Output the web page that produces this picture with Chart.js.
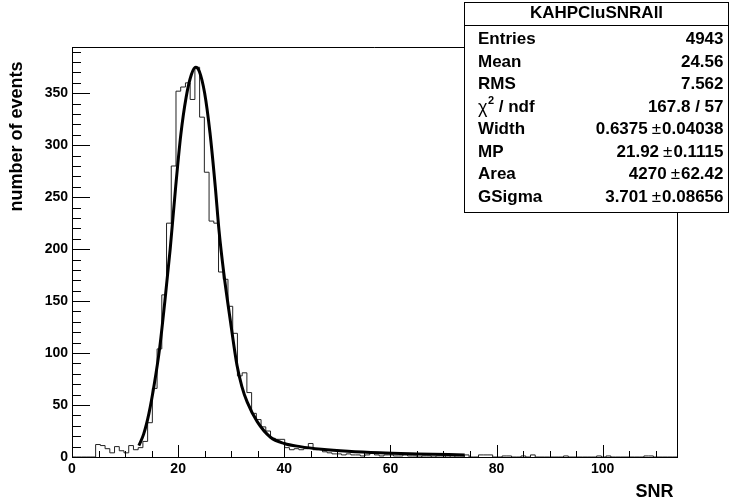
<!DOCTYPE html>
<html>
<head>
<meta charset="utf-8">
<script src="https://cdn.jsdelivr.net/npm/chart.js@4.4.1/dist/chart.umd.min.js"></script>
<style>
  html, body { margin: 0; padding: 0; background: #fff; }
  canvas { display: block; }
</style>
</head>
<body>
<canvas id="c" width="734" height="500"></canvas>
<script>
// Histogram definition: 128 equal bins on [xMin, xMax]
const histName = 'KAHPCluSNRAll';
const xMin = 0;
const xMax = 114;
const nBins = 128;

// Bin contents (events per bin), bin 0 first
const binCounts = [
  0, 0, 0, 0, 0,
  12, 11, 8, 4, 10, 6, 4, 11, 7, 9, 15,
  33, 66, 104, 156, 225, 280, 352, 356, 360, 344, 375, 327, 274, 227, 225,
  178, 171, 145, 119, 78, 81, 62, 42, 36, 29, 25, 18, 17, 17, 9,
  7, 8, 7, 8, 13, 7, 8, 5, 4, 3,
  3, 2, 3, 2, 2, 1, 2, 4, 2, 1, 2, 2, 1, 1, 2, 1, 1, 0, 1, 1, 0, 1, 1, 0, 1, 0,
  0, 2, 0, 0, 2, 2, 2, 0, 0, 1, 1, 0, 0, 1, 0, 2, 0, 0, 0, 0, 0, 0, 1, 0, 0, 0,
  0, 0, 0, 1, 0, 1, 0, 0, 0, 0, 0, 0, 0, 1, 1, 0, 0, 0, 0, 0
];

// Landau (x) Gauss fit curve, sampled over the fit range
const fitX = [12.6, 13.5, 14.5, 15.5, 16.5, 17.5, 18.5, 19.5, 20.5, 21.5, 22.5, 23.3,
              24.0, 25.0, 26.0, 27.0, 27.7, 28.6, 29.9, 31.1, 32.0, 33.0, 34.9, 37.4,
              40, 43, 47, 52, 58, 65, 74];
const fitY = [11, 22, 42, 70, 104, 150, 200, 258, 310, 346, 368, 375,
              371, 350, 312, 260, 218, 177, 129, 88, 68, 53, 34, 19,
              13, 10, 7.5, 5.5, 4, 3, 2];

// Axis ranges and tick spacing
const yMax = 394.5;
const xMajorStep = 20, xMinorStep = 5;
const yMajorStep = 50, yMinorStep = 10;

// Axis titles
const xTitle = 'SNR';
const yTitle = 'number of events';

// Statistics / fit parameter box
const statLabels = ['Entries', 'Mean', 'RMS', 'chi2', 'Width', 'MP', 'Area', 'GSigma'];
const statValues = ['4943', '24.56', '7.562', '167.8 / 57', '0.6375', '21.92', '4270', '3.701'];
const statErrors = ['', '', '', '', '0.04038', '0.1115', '62.42', '0.08656'];

const FONT = '"Liberation Sans", Arial, Helvetica, sans-serif';
const binW = (xMax - xMin) / nBins;

const histPoints = binCounts.map((c, i) => ({ x: xMin + i * binW, y: c }));
histPoints.push({ x: xMax, y: 0 });
const fitPoints = fitX.map((x, i) => ({ x: x, y: fitY[i] }));

function line(ctx, x1, y1, x2, y2) {
  ctx.beginPath();
  ctx.moveTo(x1, y1);
  ctx.lineTo(x2, y2);
  ctx.stroke();
}

const framePlugin = {
  id: 'frame',
  afterDatasetsDraw(chart) {
    const { ctx, chartArea: a, scales: { x, y } } = chart;
    ctx.save();
    ctx.strokeStyle = '#000';
    ctx.lineWidth = 1;
    // top and right sides of the frame
    line(ctx, a.left, a.top + 0.5, a.right + 0.5, a.top + 0.5);
    line(ctx, a.right + 0.5, a.top, a.right + 0.5, a.bottom + 0.5);
    // inward ticks on the y axis
    for (let v = 0; v <= y.max + 1e-6; v += yMinorStep) {
      const py = Math.round(y.getPixelForValue(v)) + 0.5;
      const len = (v % yMajorStep === 0) ? 18 : 9;
      line(ctx, a.left, py, a.left + len, py);
    }
    // inward ticks on the x axis
    for (let v = xMin; v <= x.max + 1e-6; v += xMinorStep) {
      const px = Math.round(x.getPixelForValue(v)) + 0.5;
      const len = (v % xMajorStep === 0) ? 12 : 6;
      line(ctx, px, a.bottom, px, a.bottom - len);
    }
    // axis titles
    ctx.fillStyle = '#000';
    ctx.font = 'bold 18px ' + FONT;
    ctx.textBaseline = 'middle';
    ctx.textAlign = 'right';
    ctx.fillText(xTitle, 673.5, 492.5);
    ctx.save();
    ctx.translate(17.5, 136.5);
    ctx.rotate(-Math.PI / 2);
    ctx.textAlign = 'center';
    ctx.fillText(yTitle, 0, 0);
    ctx.restore();
    ctx.restore();
  },
  afterDraw(chart) {
    const ctx = chart.ctx;
    const L = 464, T = 2, R = 729, B = 212, H = 25;
    ctx.save();
    ctx.fillStyle = '#fff';
    ctx.fillRect(L, T, R - L, B - T);
    ctx.strokeStyle = '#000';
    ctx.lineWidth = 1;
    ctx.strokeRect(L + 0.5, T + 0.5, R - L - 1, B - T);
    line(ctx, L, H + 0.5, R, H + 0.5);
    ctx.fillStyle = '#000';
    ctx.textBaseline = 'middle';
    ctx.font = 'bold 17px ' + FONT;
    ctx.textAlign = 'center';
    ctx.fillText(histName, (L + R) / 2, 13.5);

    const labelX = 478, valueX = 723.5;
    for (let i = 0; i < statLabels.length; i++) {
      const cy = 39.5 + 22.5 * i;
      ctx.textAlign = 'left';
      if (statLabels[i] === 'chi2') {
        ctx.font = '18px ' + FONT;
        ctx.fillText('\u03c7', labelX, cy + 1);
        let w = ctx.measureText('\u03c7').width;
        ctx.font = 'bold 11px ' + FONT;
        ctx.fillText('2', labelX + w + 0.5, cy - 6);
        w += ctx.measureText('2').width + 0.5;
        ctx.font = 'bold 17px ' + FONT;
        ctx.fillText(' / ndf', labelX + w, cy);
      } else {
        ctx.font = 'bold 17px ' + FONT;
        ctx.fillText(statLabels[i], labelX, cy);
      }
      ctx.textAlign = 'right';
      if (statErrors[i]) {
        ctx.font = 'bold 17px ' + FONT;
        ctx.fillText(statErrors[i], valueX, cy);
        let xr = valueX - ctx.measureText(statErrors[i]).width - 1;
        ctx.font = '17px ' + FONT;
        ctx.fillText('\u00b1', xr, cy);
        xr -= ctx.measureText('\u00b1').width + 4;
        ctx.font = 'bold 17px ' + FONT;
        ctx.fillText(statValues[i], xr, cy);
      } else {
        ctx.font = 'bold 17px ' + FONT;
        ctx.fillText(statValues[i], valueX, cy);
      }
    }
    ctx.restore();
  }
};

new Chart(document.getElementById('c').getContext('2d'), {
  type: 'line',
  data: {
    datasets: [
      {
        label: histName,
        data: histPoints,
        stepped: true,
        borderColor: '#222',
        borderWidth: 1,
        pointRadius: 0,
        fill: false,
        order: 2
      },
      {
        label: 'fit',
        data: fitPoints,
        borderColor: '#000',
        borderWidth: 3,
        pointRadius: 0,
        fill: false,
        cubicInterpolationMode: 'monotone',
        order: 1
      }
    ]
  },
  options: {
    responsive: false,
    animation: false,
    devicePixelRatio: 1,
    layout: { padding: { left: 0, right: 57, top: 47, bottom: 0 } },
    plugins: { legend: { display: false }, tooltip: { enabled: false } },
    scales: {
      x: {
        type: 'linear',
        min: xMin,
        max: xMax,
        afterFit(s) { s.height = 43; },
        grid: { display: true, drawOnChartArea: false, drawTicks: false },
        border: { display: true, color: '#000', width: 1 },
        ticks: {
          stepSize: xMajorStep,
          includeBounds: false,
          padding: 4,
          maxRotation: 0,
          autoSkip: false,
          color: '#000',
          font: { family: FONT, size: 14, weight: 'bold' }
        }
      },
      y: {
        type: 'linear',
        min: 0,
        max: yMax,
        afterFit(s) { s.width = 72; },
        grid: { display: true, drawOnChartArea: false, drawTicks: false },
        border: { display: true, color: '#000', width: 1 },
        ticks: {
          stepSize: yMajorStep,
          includeBounds: false,
          padding: 4,
          autoSkip: false,
          color: '#000',
          font: { family: FONT, size: 14, weight: 'bold' }
        }
      }
    }
  },
  plugins: [framePlugin]
});
</script>
</body>
</html>
